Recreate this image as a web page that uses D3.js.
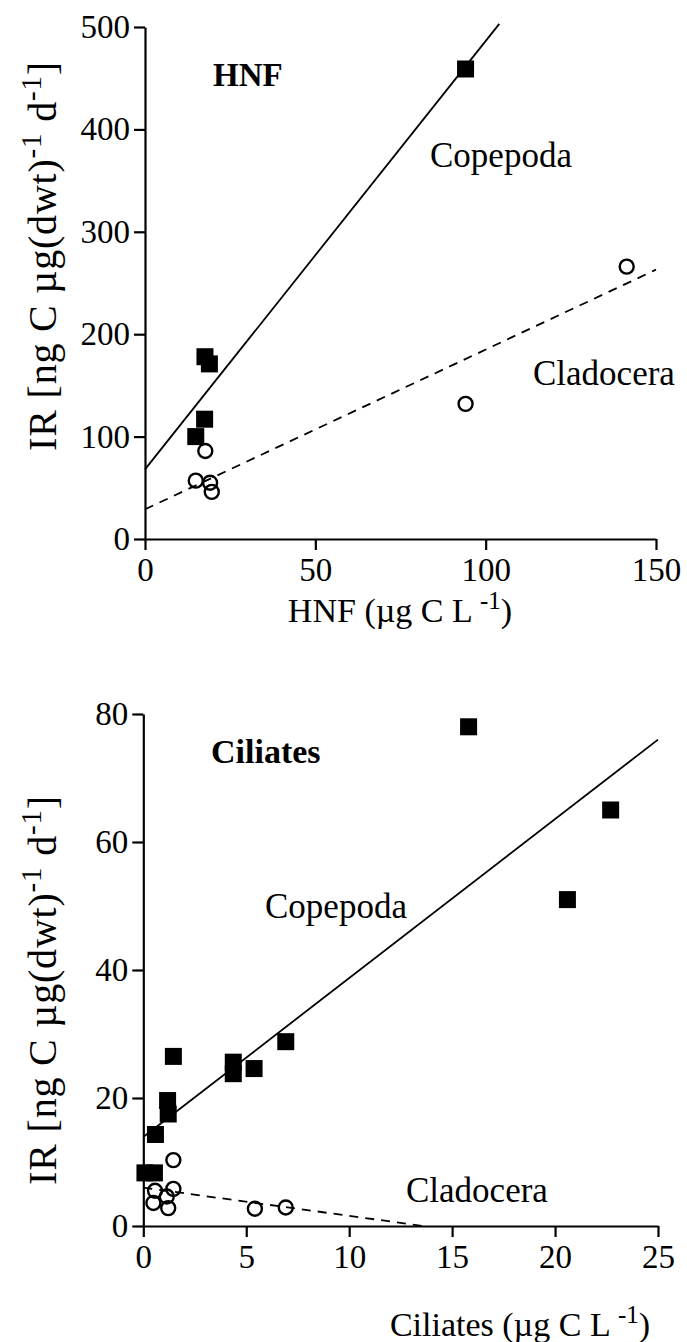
<!DOCTYPE html>
<html><head><meta charset="utf-8">
<script src="https://cdn.jsdelivr.net/npm/d3@7"></script>
<style>body{margin:0;background:#fff}svg{display:block}</style>
</head><body><svg id="c" width="687" height="1342"></svg>
<script>
// ---- Panel A: HNF ----
const hnfCopX = [94.1, 17.6, 18.9, 17.5, 14.9];
const hnfCopY = [459, 178, 171, 117, 100];
const hnfCladX = [17.7, 14.9, 19.1, 19.6, 94.1, 141.4];
const hnfCladY = [86, 57, 55, 46, 132, 266];
const hnfCopLine = [[0, 68], [104, 503]];
const hnfCladLine = [[0, 29], [150, 263]];
const hnfXTicks = [0, 50, 100, 150];
const hnfYTicks = [0, 100, 200, 300, 400, 500];

// ---- Panel B: Ciliates ----
const cilCopX = [15.8, 22.7, 20.6, 1.46, 4.37, 4.37, 5.38, 6.92, 1.18, 1.21, 0.59, 0.08, 0.54];
const cilCopY = [78, 65, 51, 26.5, 25.6, 23.8, 24.6, 28.8, 19.6, 17.5, 14.3, 8.3, 8.3];
const cilCladX = [1.46, 1.46, 0.57, 1.14, 0.49, 1.21, 5.42, 6.92];
const cilCladY = [10.3, 5.8, 5.5, 4.6, 3.6, 2.8, 2.7, 2.9];
const cilCopLine = [[0, 13.9], [25, 76]];
const cilCladLine = [[0, 6.0], [13.6, 0]];
const cilXTicks = [0, 5, 10, 15, 20, 25];
const cilYTicks = [0, 20, 40, 60, 80];

const FONT = '"Liberation Serif","Times New Roman",serif';
const svg = d3.select('#c');

function panel(o) {
  const x = d3.scaleLinear().domain(o.xDom).range(o.xRange);
  const y = d3.scaleLinear().domain(o.yDom).range(o.yRange);
  const g = svg.append('g');

  const xa = g.append('g').attr('transform', `translate(0,${o.yRange[0]})`)
    .call(d3.axisBottom(x).tickValues(o.xTicks).tickSize(11).tickSizeOuter(0).tickPadding(8));
  const ya = g.append('g').attr('transform', `translate(${o.xRange[0]},0)`)
    .call(d3.axisLeft(y).tickValues(o.yTicks).tickSize(11).tickSizeOuter(0).tickPadding(4));
  [xa, ya].forEach(a => {
    a.select('.domain').attr('stroke', '#000').attr('stroke-width', 2.2);
    a.selectAll('.tick line').attr('stroke', '#000').attr('stroke-width', 2.2);
    a.selectAll('.tick text').attr('fill', '#000').style('font-family', FONT).style('font-size', '33px');
  });

  const line = d3.line().x(d => x(d[0])).y(d => y(d[1]));
  g.append('path').attr('d', line(o.copLine)).attr('fill', 'none').attr('stroke', '#000').attr('stroke-width', 1.8);
  g.append('path').attr('d', line(o.cladLine)).attr('fill', 'none').attr('stroke', '#000').attr('stroke-width', 1.8).attr('stroke-dasharray', '9,7');

  const s = 17;
  g.selectAll('rect.cop').data(o.copX.map((v, i) => [v, o.copY[i]])).enter().append('rect')
    .attr('x', d => x(d[0]) - s / 2).attr('y', d => y(d[1]) - s / 2)
    .attr('width', s).attr('height', s).attr('fill', '#000');
  g.selectAll('circle.clad').data(o.cladX.map((v, i) => [v, o.cladY[i]])).enter().append('circle')
    .attr('cx', d => x(d[0])).attr('cy', d => y(d[1])).attr('r', 7)
    .attr('fill', 'none').attr('stroke', '#000').attr('stroke-width', 2.4);

  const t = (txt, px, py, size, weight) => g.append('text').attr('x', px).attr('y', py)
    .style('font-family', FONT).style('font-size', size + 'px').style('font-weight', weight || 'normal')
    .attr('fill', '#000').text(txt);
  t(o.title, o.titlePos[0], o.titlePos[1], o.titleSize, 'bold');
  t('Copepoda', o.copPos[0], o.copPos[1], 35);
  t('Cladocera', o.cladPos[0], o.cladPos[1], 35);

  // x axis title
  const xt = g.append('text').attr('x', o.xTitlePos[0]).attr('y', o.xTitlePos[1]).attr('text-anchor', 'middle')
    .style('font-family', FONT).style('font-size', '34px').attr('fill', '#000');
  xt.append('tspan').text(o.xTitle + ' (\u00B5g C L ');
  xt.append('tspan').attr('dy', -13).style('font-size', '25px').text('-1');
  xt.append('tspan').attr('dy', 13).text(')');

  // y axis title
  const yt = g.append('text').attr('transform', `translate(${o.yTitlePos[0]},${o.yTitlePos[1]}) rotate(-90)`)
    .attr('text-anchor', 'middle').style('letter-spacing', '0.8px')
    .style('font-family', FONT).style('font-size', '40px').attr('fill', '#000');
  yt.append('tspan').text('IR [ng C \u00B5g(dwt)');
  yt.append('tspan').attr('dy', -15).style('font-size', '29px').text('-1');
  yt.append('tspan').attr('dy', 15).text(' d');
  yt.append('tspan').attr('dy', -15).style('font-size', '29px').text('-1');
  yt.append('tspan').attr('dy', 15).text(']');
}

panel({
  xDom: [0, 150], xRange: [145, 656], yDom: [0, 500], yRange: [539, 27],
  xTicks: hnfXTicks, yTicks: hnfYTicks,
  copX: hnfCopX, copY: hnfCopY, cladX: hnfCladX, cladY: hnfCladY,
  copLine: hnfCopLine, cladLine: hnfCladLine,
  title: 'HNF', titleSize: 33, titlePos: [213, 86], copPos: [430, 167], cladPos: [533, 385],
  xTitle: 'HNF', xTitlePos: [400, 622], yTitlePos: [56, 256]
});

panel({
  xDom: [0, 25], xRange: [143.3, 658], yDom: [0, 80], yRange: [1226, 714],
  xTicks: cilXTicks, yTicks: cilYTicks,
  copX: cilCopX, copY: cilCopY, cladX: cilCladX, cladY: cilCladY,
  copLine: cilCopLine, cladLine: cilCladLine,
  title: 'Ciliates', titleSize: 34, titlePos: [211, 763], copPos: [265, 918], cladPos: [406, 1202],
  xTitle: 'Ciliates', xTitlePos: [520, 1336], yTitlePos: [56, 990]
});
</script></body></html>
